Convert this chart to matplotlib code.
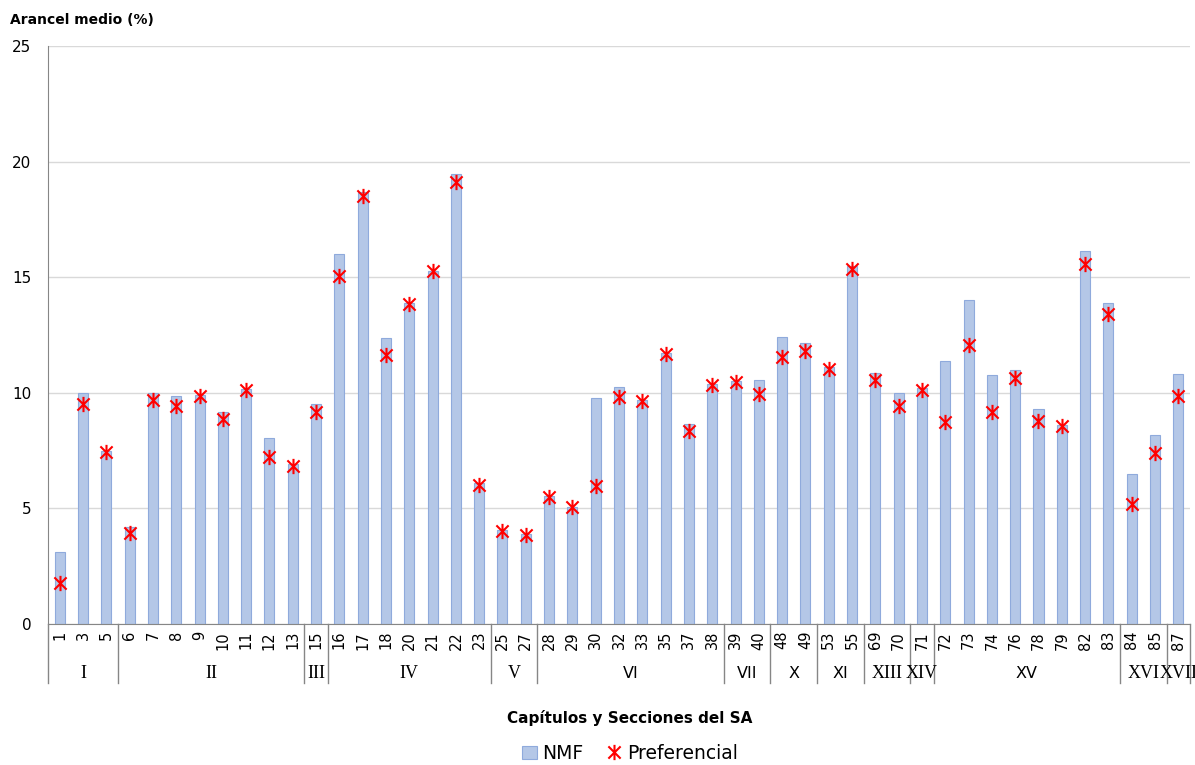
import numpy as np
import matplotlib
matplotlib.use('Agg')
from matplotlib import pyplot as plt
import matplotlib.transforms as mtrans
from matplotlib.path import Path

# chapters and sections
capitulos = ['1', '3', '5', '6', '7', '8', '9', '10', '11', '12', '13', '15',
             '16', '17', '18', '20', '21', '22', '23', '25', '27',
             '28', '29', '30', '32', '33', '35', '37', '38', '39', '40',
             '48', '49', '53', '55', '69', '70', '71',
             '72', '73', '74', '76', '78', '79', '82', '83', '84', '85', '87']
secciones = ['I', 'II', 'III', 'IV', 'V', 'VI', 'VII', 'X', 'XI', 'XIII', 'XIV', 'XV', 'XVI', 'XVII']
n_por_seccion = [3, 8, 1, 7, 2, 8, 2, 2, 2, 2, 1, 8, 2, 1]

nmf = [3.1, 10.0, 7.5, 4.2, 10.0, 9.86, 9.9, 9.18, 10.15, 8.05, 6.9, 9.5,
       16.0, 18.7, 12.38, 13.9, 15.25, 19.48, 6.08, 4.06, 3.9,
       5.55, 5.07, 9.77, 10.27, 9.7, 11.7, 8.65, 10.4, 10.5, 10.56,
       12.41, 12.16, 11.1, 15.5, 10.84, 10.0, 10.2,
       11.38, 14.0, 10.78, 10.97, 9.32, 8.6, 16.15, 13.9, 6.5, 8.17, 10.82]
pref = [1.76, 9.5, 7.45, 3.92, 9.68, 9.44, 9.86, 8.86, 10.1, 7.23, 6.83, 9.18,
        15.07, 18.5, 11.63, 13.86, 15.26, 19.1, 6.0, 4.02, 3.85,
        5.5, 5.04, 5.97, 9.83, 9.65, 11.66, 8.34, 10.33, 10.45, 9.94,
        11.54, 11.8, 11.05, 15.37, 10.55, 9.44, 10.14,
        8.72, 12.06, 9.15, 10.65, 8.78, 8.57, 15.59, 13.39, 5.19, 7.41, 9.86]

# sections drawn with serif glyphs in the original
serif_sec = ['I', 'II', 'III', 'IV', 'V', 'XIII', 'XIV', 'XVI', 'XVII']

# excel-like star: an X plus a vertical bar
star = Path([(-1, -1), (1, 1), (-1, 1), (1, -1), (0, -1.25), (0, 1.25)],
            [Path.MOVETO, Path.LINETO, Path.MOVETO, Path.LINETO, Path.MOVETO, Path.LINETO])

x = np.arange(len(capitulos))

fig = plt.figure(figsize=(11.95, 7.65), dpi=100)
ax = fig.add_axes([0.0402, 0.1843, 0.9556, 0.7556])

ax.bar(x, nmf, width=0.43, color='#B4C7E7', edgecolor='#8FAADC', linewidth=0.8, label='NMF', zorder=2)
ax.plot(x, pref, linestyle='none', marker=star, markersize=11, markeredgewidth=1.5,
        color='#FF0000', label='Preferencial', zorder=3)

ax.set_xlim(-0.5, len(capitulos) - 0.5)
ax.set_ylim(0, 25)
ax.set_yticks([0, 5, 10, 15, 20, 25])
ax.yaxis.grid(True, color='#D9D9D9', linewidth=1)
ax.set_axisbelow(True)
ax.tick_params(axis='y', length=0, labelsize=11, pad=12)
ax.set_xticks([])
for s in ['top', 'right']:
    ax.spines[s].set_visible(False)
ax.spines['left'].set_color('#868686')
ax.spines['bottom'].set_color('#868686')

trans = mtrans.blended_transform_factory(ax.transData, ax.transAxes)
for i, c in enumerate(capitulos):
    ax.text(i, -0.012, c, rotation=90, ha='center', va='top', fontsize=10.5, transform=trans)

# section separators and labels
start = 0
ax.plot([-0.5, -0.5], [0, -0.102], color='#868686', lw=1, transform=trans, clip_on=False)
for sec, n in zip(secciones, n_por_seccion):
    end = start + n
    ax.plot([end - 0.5, end - 0.5], [0, -0.102], color='#868686', lw=1, transform=trans, clip_on=False)
    fam = 'Liberation Serif' if sec in serif_sec else 'DejaVu Sans'
    fs = 13 if sec in serif_sec else 11.5
    ax.text((start + end - 1) / 2, -0.085, sec, ha='center', va='center', fontsize=fs,
            family=fam, transform=trans)
    start = end

fig.text(0.008, 0.974, 'Arancel medio (%)', fontsize=10, fontweight='bold', ha='left', va='center')
fig.text(0.527, 0.062, 'Capítulos y Secciones del SA', fontsize=11, fontweight='bold', ha='center', va='center')

h, l = ax.get_legend_handles_labels()
order = [l.index('NMF'), l.index('Preferencial')]
fig.legend([h[k] for k in order], [l[k] for k in order], loc='center', bbox_to_anchor=(0.527, 0.015),
           ncol=2, frameon=False, fontsize=13.5, handlelength=0.8, handletextpad=0.3,
           columnspacing=1.2, borderaxespad=0)

fig.savefig('out.png', dpi=100)
